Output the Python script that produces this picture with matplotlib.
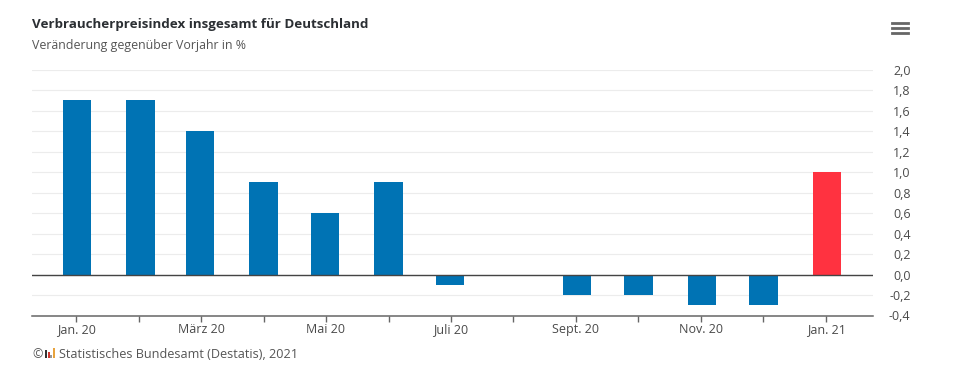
import matplotlib
matplotlib.use("Agg")
import matplotlib.pyplot as plt
import matplotlib.dates as mdates
import numpy as np
from datetime import date

months = [date(2020, m, 1) for m in range(1, 13)] + [date(2021, 1, 1)]
values = [1.7, 1.7, 1.4, 0.9, 0.6, 0.9, -0.1, 0.0, -0.2, -0.2, -0.3, -0.3, 1.0]
x_labels = ["Jan. 20", "", "März 20", "", "Mai 20", "", "Juli 20", "", "Sept. 20", "", "Nov. 20", "", "Jan. 21"]
y_ticks = [-0.4, -0.2, 0.0, 0.2, 0.4, 0.6, 0.8, 1.0, 1.2, 1.4, 1.6, 1.8, 2.0]

W, H = 973, 378
plt.rcParams["font.family"] = ["Open Sans", "DejaVu Sans"]

fig = plt.figure(figsize=(W / 100, H / 100), dpi=100)
ax = fig.add_axes([32 / W, 1 - 315.5 / H, 841 / W, 245.8 / H])

x = mdates.date2num(months)
colors = ["#0073b4"] * 12 + ["#ff3240"]
px_per_day = 750 / (x[-1] - x[0])
# Balken sitzen gut 1 px rechts neben den Ticks
ax.bar(x + 1.0 / px_per_day, values, width=14.0, color=colors, zorder=3)

ax.set_xlim(x[0] - 44 / px_per_day, x[-1] + 47 / px_per_day)
ax.set_ylim(-0.4, 2.0)

# Ticks sind gleichmaessig verteilt, die Balken liegen auf echten Daten
ax.set_xticks(np.linspace(x[0], x[-1], 13))
ax.set_xticklabels(x_labels, fontsize=9, color="#4a4a4a")
ax.tick_params(axis="x", length=4, width=1, color="#666666", pad=1.2)

ax.yaxis.tick_right()
ax.set_yticks(y_ticks)
ax.set_yticklabels([f"{v:.1f}".replace(".", ",") for v in y_ticks], fontsize=9, color="#4a4a4a", ha="right")
ax.tick_params(axis="y", length=0, pad=27)

ax.grid(axis="y", color="#ececec", linewidth=0.8, zorder=0)
ax.axhline(0, color="#444444", linewidth=1, zorder=4)
for s in ["top", "left", "right"]:
    ax.spines[s].set_visible(False)
ax.spines["bottom"].set_color("#666666")
ax.spines["bottom"].set_linewidth(1.1)

fig.text(32 / W, 1 - 24.5 / H, "Verbraucherpreisindex insgesamt für Deutschland",
         fontsize=9.65, fontweight="bold", color="#2b2f33", va="center")
fig.text(32 / W, 1 - 45 / H, "Veränderung gegenüber Vorjahr in %",
         fontsize=8.9, color="#555555", va="center")
fig.text(32 / W, 1 - 354.5 / H, "©", fontsize=9, color="#555555", va="center")
fig.text(59 / W, 1 - 354.5 / H, "Statistisches Bundesamt (Destatis), 2021",
         fontsize=9.1, color="#555555", va="center")

# Logo aus kleinen Balken
for lx, ly, lh, c in [(45, 358, 8, "#333333"), (47.5, 358, 6, "#d0342c"), (50, 358, 3, "#999999"), (52.5, 358, 10, "#e8a33d")]:
    fig.add_artist(plt.Rectangle((lx / W, 1 - ly / H), 2 / W, lh / H, color=c, lw=0))

# Menue-Symbol
for my in [23, 28, 33]:
    fig.add_artist(plt.Line2D([891.5 / W, 907.5 / W], [1 - my / H, 1 - my / H], color="#666666", lw=2))

fig.savefig("out.png", dpi=100)
